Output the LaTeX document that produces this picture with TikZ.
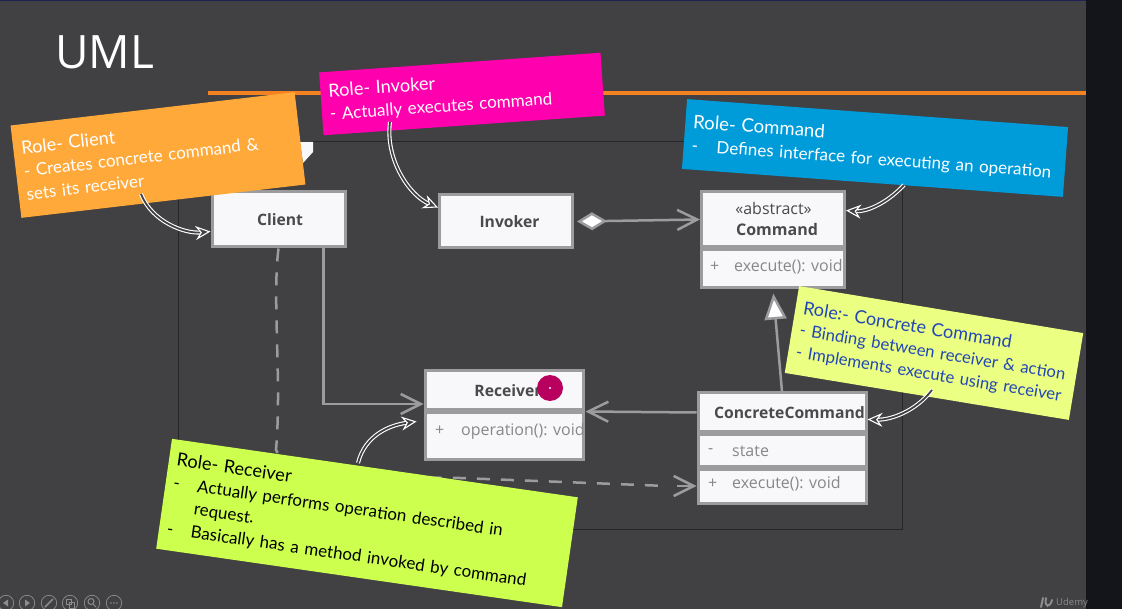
\documentclass[tikz,border=0pt]{standalone}
\usepackage{fontspec}
\setmainfont{Open Sans}
\newfontfamily\handfont{Lato}
\usepackage{xcolor}
\usetikzlibrary{arrows.meta, calc}
\definecolor{slidebg}{HTML}{414042}
\definecolor{sidestrip}{HTML}{14151A}
\definecolor{framecol}{HTML}{262628}
\definecolor{rulecol}{HTML}{F58220}
\definecolor{linkgray}{HTML}{9C9C9E}
\definecolor{boxfill}{HTML}{F8F8FA}
\definecolor{inkdark}{HTML}{4A4A4C}
\definecolor{inkgray}{HTML}{88888A}
\definecolor{noteorange}{HTML}{FFA93A}
\definecolor{notepink}{HTML}{FF00AE}
\definecolor{noteblue}{HTML}{009CDA}
\definecolor{notepale}{HTML}{EBFF82}
\definecolor{notegreen}{HTML}{CCFF4E}
\definecolor{inkblue}{HTML}{2347B5}
\definecolor{pointerdot}{HTML}{B8005F}

\tikzset{
  classbox/.style={draw=linkgray, line width=3pt, fill=boxfill, inner sep=0pt, text=inkdark,
    font=\fontsize{15.7}{19}\selectfont\bfseries, align=center},
  classmember/.style={text=inkgray, font=\fontsize{16}{19}\selectfont, inner sep=0pt, anchor=west},
  link/.style={draw=linkgray, line width=2.5pt, -{Straight Barb[length=20pt,width=20pt]}},
  sticky/.style={inner xsep=8pt, inner ysep=0pt, align=left, font=\handfont\fontsize{17}{23}\selectfont},
  callout/.style={draw=white, double=slidebg, line width=1.1pt, double distance=1.8pt,
    -{Stealth[open,fill=slidebg,length=15pt,width=14pt,inset=5pt]}},
  toolbtn/.style={draw=gray!90, line width=0.7pt},
}

\begin{document}
\begin{tikzpicture}[x=1pt,y=-1pt]
  \useasboundingbox (0,0) rectangle (1122,609);
  \fill[slidebg] (0,0) rectangle (1122,609);
  \fill[sidestrip] (1086,0) rectangle (1122,609);
  \fill[black!60!blue!50!slidebg] (0,0) rectangle (1086,1.5);

  \node[text=white, inner sep=0pt, font=\fontsize{46}{50}\selectfont] (title) at (104.5,52) {UML};
  \draw[rulecol, line width=4pt] (208,93.5) -- (1086,93.5);
  \draw[framecol, line width=1pt] (178,142) rectangle (902,529);
  \fill[boxfill] (300,142) -- (313,142) -- (313,152) -- (303,163) -- cycle;

  % classes
  \node[classbox, minimum width=133pt, minimum height=55pt] (boxClient) at (278.5,219.5) {\hspace{3pt}Client};
  \node[classbox, minimum width=133pt, minimum height=53pt] (boxInvoker) at (506,221.5) {\hspace{7pt}Invoker};

  \node[classbox, minimum width=143pt, minimum height=55pt, font=\fontsize{16}{21}\selectfont] (headCommand) at (773,219.5)
    {\hspace{1pt}\textcolor{inkdark}{«abstract»}\\\hspace{8pt}\textbf{Command}};
  \node[classbox, minimum width=143pt, minimum height=38pt, anchor=north] (memCommand) at (headCommand.south) {};

  \node[classbox, minimum width=158pt, minimum height=39pt] (headReceiver) at (504,390.5) {\hspace{8pt}Receiver};
  \node[classbox, minimum width=158pt, minimum height=46pt, anchor=north] (memReceiver) at (headReceiver.south) {};

  \node[classbox, minimum width=168pt, minimum height=39pt] (headConcrete) at (782,412.5) {\hspace{15pt}ConcreteCommand};
  \node[classbox, minimum width=168pt, minimum height=31pt, anchor=north] (stateConcrete) at (headConcrete.south) {};
  \node[classbox, minimum width=168pt, minimum height=34pt, anchor=north] (execConcrete) at (stateConcrete.south) {};

  % members, cut off by the box edge
  \begin{scope}
    \clip (memCommand.north west) rectangle ([xshift=-1.5pt]memCommand.south east);
    \node[classmember] (plusCommand) at (710,267) {+};
    \node[classmember] (opCommand) at (734,267) {execute(): void};
  \end{scope}
  \begin{scope}
    \clip (memReceiver.north west) rectangle ([xshift=-1.5pt]memReceiver.south east);
    \node[classmember] (plusReceiver) at (435,431) {+};
    \node[classmember] (opReceiver) at (461,431) {operation(): void};
  \end{scope}
  \node[classmember] (minusState) at (708,451) {-};
  \node[classmember] (nameState) at (732,451) {state};
  \node[classmember] (plusExec) at (708,484) {+};
  \node[classmember] (opExec) at (732,484) {execute(): void};

  % relations
  \draw[link] ([xshift=-23pt]boxClient.south east) |- ([yshift=-13.5pt]headReceiver.west);
  \draw[link] (headConcrete.west) -- ([xshift=1pt]headReceiver.south east);
  \draw[link, {Diamond[fill=white,length=30pt,width=18pt,line width=2.5pt]}-{Straight Barb[length=20pt,width=20pt]}]
    ([xshift=3pt]boxInvoker.east) -- (headCommand.west);
  \draw[draw=linkgray, line width=2.5pt, shorten >=4pt, -{Triangle[fill=white,length=26pt,width=22pt,line width=2.5pt]}]
    (headConcrete.north) -- (memCommand.south);
  \draw[draw=linkgray, line width=2.5pt, dash pattern=on 13pt off 11pt] (boxClient.south) .. controls (272,300) and (282,380) .. (276,450)
    .. controls (280,470) and (400,478) .. (460,478) -- ([xshift=-30pt]execConcrete.west);
  \draw[link] ([xshift=-20pt]execConcrete.west) -- (execConcrete.west);

  % notes
  \node[sticky, fill=noteorange, text=white, text width=270pt, minimum height=93pt, rotate=6.7] (noteClient) at (158,155)
    {{\fontsize{18.2}{23}\selectfont Role- Client}\\- Creates concrete command \&\\sets its receiver};
  \node[sticky, fill=notepink, text=white, text width=266pt, minimum height=63pt, rotate=4] (noteInvoker) at (462,94)
    {{\fontsize{18.2}{23}\selectfont Role- Invoker}\\- Actually executes command};
  \node[sticky, fill=noteblue, text=white, text width=366pt, minimum height=70pt, rotate=-4.2] (noteCommand) at (875,148)
    {{\fontsize{18.6}{23}\selectfont Role- Command}\\\mbox{\makebox[25pt][l]{-}Defines interface for executing an operation}};
  \node[sticky, fill=notepale, text=inkblue, text width=272pt, minimum height=88pt, rotate=-9.4,
      font=\handfont\fontsize{16.7}{22}\selectfont] (noteConcrete) at (934,353)
    {{\fontsize{18.1}{22}\selectfont Role:- Concrete Command}\\- Binding between receiver \& action\\- Implements execute using receiver};
  \node[sticky, fill=notegreen, text=black, text width=394pt, minimum height=111pt, rotate=-8.2] (noteReceiver) at (367,523)
    {{\fontsize{18.2}{23}\selectfont Role- Receiver}\\\makebox[24pt][l]{-}Actually performs operation described in\\\hspace*{24pt}request.\\\makebox[24pt][l]{-}Basically has a method invoked by command};

  % hand drawn pointers
  \coordinate (tailClient) at (141,194);
  \coordinate (tailInvoker) at (390,122);
  \coordinate (tailCommand) at (904,185);
  \coordinate (tailConcrete) at (932,390);
  \coordinate (tailReceiver) at (358,463);
  \draw[callout] (tailClient) .. controls (152,222) and (185,234) .. ([yshift=-12pt]boxClient.west);
  \draw[callout] (tailInvoker) .. controls (385,160) and (410,196) .. ([yshift=14pt]boxInvoker.west);
  \draw[callout] (tailCommand) .. controls (885,205) and (865,212) .. ([yshift=9pt]headCommand.east);
  \draw[callout] (tailConcrete) .. controls (915,412) and (890,420) .. ([yshift=-7pt]headConcrete.east);
  \draw[callout] (tailReceiver) .. controls (365,435) and (390,425) .. ([xshift=-7pt,yshift=-10pt]headReceiver.south west);

  % laser pointer
  \fill[pointerdot] (550,388) circle (13pt);
  \fill[white] (550,388) circle (1.2pt);

  % player controls
  \foreach \cx in {6,27,49,70,92,114}
    \draw[toolbtn] (\cx,603) circle (7.7pt);
  \fill[gray!90] (8,599.5) -- (8,606.5) -- (3,603) -- cycle;
  \fill[gray!90] (25,599.5) -- (25,606.5) -- (30,603) -- cycle;
  \draw[gray!90, line width=1.5pt] (45,607) -- (53,599);
  \draw[gray!90, line width=1pt] (66,599) rectangle (71,604) (69,602) rectangle (74,608);
  \draw[gray!90, line width=1pt] (91,601.5) circle (3pt) (93,604) -- (96,607);
  \foreach \cx in {111,114,117}
    \fill[gray!90] (\cx,603) circle (0.9pt);

  % udemy mark
  \draw[gray!90, line width=2pt, line cap=round] (1041,607) -- (1043,598) (1046,598) .. controls (1044,608) and (1050,608) .. (1052,600);
  \node[text=gray!90, inner sep=0pt, anchor=west, font=\fontsize{9.5}{11}\selectfont] (brand) at (1056,603) {Udemy};
\end{tikzpicture}
\end{document}
